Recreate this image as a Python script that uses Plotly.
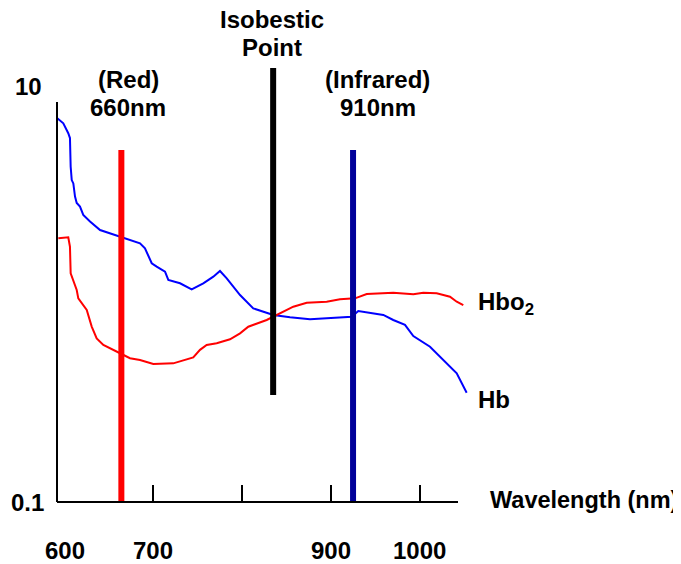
import plotly.graph_objects as go

# ---------------- data ----------------
hb_wavelength = [591.5, 598.6, 604.2, 606.1, 606.9, 608.1, 609.9, 611.8, 613.7, 617.4,
                 621.1, 628.7, 640.0, 662.5, 685.0, 690.6, 694.4, 698.2, 703.8, 713.2,
                 716.9, 730.1, 743.2, 756.3, 767.6, 775.1, 782.7, 797.7, 812.6, 835.2,
                 854.0, 876.5, 895.3, 923.5, 930.9, 959.1, 970.3, 983.5, 992.9, 1011.7,
                 1041.8, 1053.0]
hb_absorption = [7.02, 6.62, 5.93, 5.62, 4.09, 3.53, 3.40, 2.94, 2.74, 2.63,
                 2.40, 2.23, 2.03, 1.887, 1.753, 1.659, 1.511, 1.405, 1.353, 1.280,
                 1.168, 1.126, 1.053, 1.126, 1.211, 1.290, 1.190, 0.989, 0.853, 0.793,
                 0.773, 0.756, 0.764, 0.778, 0.829, 0.793, 0.750, 0.710, 0.628, 0.558,
                 0.416, 0.335]

hbo2_wavelength = [593.0, 604.2, 606.1, 606.9, 613.7, 615.5, 625.0, 630.6, 636.2, 643.7,
                   662.5, 673.7, 685.0, 700.0, 722.5, 745.0, 752.6, 760.1, 771.4, 786.4,
                   797.7, 807.0, 827.7, 837.1, 857.7, 872.8, 895.3, 910.3, 927.2, 940.4,
                   970.3, 992.9, 1004.1, 1019.2, 1034.2, 1041.8, 1049.2]
hbo2_absorption = [1.854, 1.874, 1.688, 1.257, 1.045, 0.953, 0.838, 0.697, 0.612, 0.569,
                   0.519, 0.491, 0.482, 0.461, 0.464, 0.496, 0.539, 0.569, 0.580, 0.606,
                   0.647, 0.696, 0.750, 0.784, 0.869, 0.908, 0.919, 0.943, 0.953, 1.000,
                   1.015, 0.997, 1.015, 1.008, 0.970, 0.918, 0.885]

marker_wavelength = [664, 835, 925]          # red LED, isobestic point, infrared LED
marker_bottom = [0.1, 0.327, 0.1]
marker_top = [4.92, 12.2, 4.92]
marker_colors = ["#ff0000", "#000000", "#000099"]

x_tick_values = [700, 800, 900, 1000]
x_tick_labels = ["600", "700", "900", "1000"]
x_tick_label_pos = [600, 700, 900, 1000]
y_tick_labels = ["10", "0.1"]

# ---------------- layout geometry ----------------
OFF = 8                      # page body margin
W, H = 681 - OFF, 564 - OFF
L, R, T, B = 57 - OFF, 470 - OFF, 60 - OFF, 502 - OFF
PW, PH = R - L, B - T


def px(x):
    return (x - OFF - L) / PW


def py(y):
    return (B - (y - OFF)) / PH


FONT = "Liberation Sans, Arial, sans-serif"
fig = go.Figure()

fig.add_trace(go.Scatter(x=hb_wavelength, y=hb_absorption, mode="lines",
                         line=dict(color="#0000ff", width=2), name="Hb",
                         showlegend=False))
fig.add_trace(go.Scatter(x=hbo2_wavelength, y=hbo2_absorption, mode="lines",
                         line=dict(color="#ff0000", width=2), name="Hbo2",
                         showlegend=False))

for xv, y0, y1, c in zip(marker_wavelength, marker_bottom, marker_top, marker_colors):
    fig.add_shape(type="line", xref="x", yref="y", x0=xv, x1=xv, y0=y0, y1=y1,
                  line=dict(color=c, width=6))

# axis lines
fig.add_shape(type="line", xref="paper", yref="paper", x0=0, x1=px(458), y0=0, y1=0,
              line=dict(color="black", width=2))
fig.add_shape(type="line", xref="paper", yref="paper", x0=0, x1=0, y0=0, y1=py(102),
              line=dict(color="black", width=2))

bold = dict(family=FONT, size=24, color="black", weight="bold")


def ann(text, x, y, xanchor="center", xref="paper", size=24):
    f = dict(bold)
    f["size"] = size
    fig.add_annotation(text=text, x=x, y=y, xref=xref, yref="paper",
                       xanchor=xanchor, yanchor="middle", showarrow=False, font=f,
                       borderpad=0)


# y labels
ann(y_tick_labels[0], px(28.5), py(86))
ann(y_tick_labels[1], px(27.5), py(502))
# x tick labels
for lab, pos in zip(x_tick_labels, x_tick_label_pos):
    ann(lab, pos, py(550), xref="x")
ann("Wavelength (nm)", px(679), py(500), xanchor="right", size=23.5)
# marker labels
ann("(Red)", px(128), py(80))
ann("660nm", px(128), py(108))
ann("Isobestic", px(272), py(19))
ann("Point", px(272), py(47))
ann("(Infrared)", px(377.5), py(80))
ann("910nm", px(377.5), py(108))
ann("Hbo<sub>2</sub>", px(477), py(303), xanchor="left")
ann("Hb", px(477), py(400), xanchor="left")

fig.update_layout(
    width=W, height=H,
    margin=dict(l=L, r=W - R, t=T, b=H - B, pad=0),
    paper_bgcolor="white", plot_bgcolor="white",
    showlegend=False,
    xaxis=dict(range=[591.5, 591.5 + PW / 0.8877], showgrid=False, zeroline=False,
               showline=False, tickvals=x_tick_values, ticks="inside", ticklen=17,
               tickwidth=2, tickcolor="black", showticklabels=False),
    yaxis=dict(type="log", range=[-1, -1 + PH / 208],
               showgrid=False, zeroline=False, showline=False, ticks="",
               showticklabels=False),
)

fig.write_html("out.html")
